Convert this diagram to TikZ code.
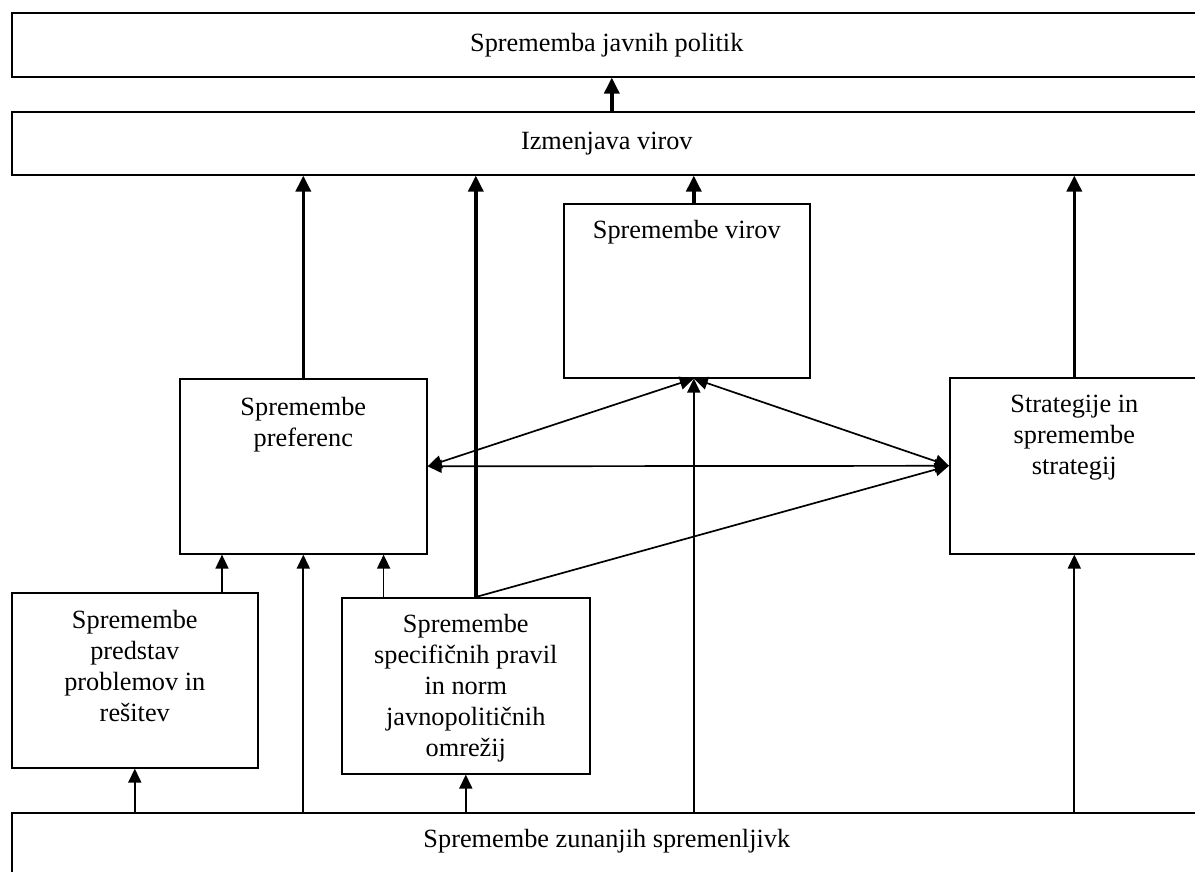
\documentclass[tikz,border=0pt]{standalone}
\usepackage{fontspec}
\setmainfont{Liberation Serif}
\usetikzlibrary{arrows.meta}

\begin{document}
\begin{tikzpicture}[x=1pt, y=-1pt,
		font=\fontsize{26.3}{31}\selectfont,
		box/.style={draw, line width=1.6pt, inner sep=0pt, anchor=north west},
		toptext/.style={anchor=north, align=center, inner sep=0pt, yshift=-18pt},
		thinarrow/.style={line width=1.7pt, -{Triangle[length=14pt,width=13pt]}},
		botharrow/.style={line width=1.7pt, {Triangle[length=14pt,width=13pt]}-{Triangle[length=14pt,width=13pt]}},
		thickarrow/.style={line width=3.5pt, -{Triangle[length=16pt,width=15pt]}}]
		%%%%% START %%%%%
		
		\useasboundingbox (0, 0) rectangle (1195, 871);
		\clip (0, 0) rectangle (1195, 871);
		
		% wide boxes
		\node[box, minimum width=1190pt, minimum height=64pt] (politik) at (11, 12) {Sprememba javnih politik};
		\node[box, minimum width=1190pt, minimum height=63pt] (izmenjava) at (11, 111) {Izmenjava virov};
		\node[box, minimum width=1190pt, minimum height=80pt,
			label={[toptext, yshift=1pt]north:Spremembe zunanjih spremenljivk}] (zunanje) at (11, 812) {};
		
		% inner boxes
		\node[box, minimum width=246pt, minimum height=174pt,
			label={[toptext, yshift=1pt]north:Spremembe virov}] (virov) at (563, 203) {};
		\node[box, minimum width=247pt, minimum height=175pt,
			label={[toptext, yshift=-1pt]north:Spremembe\\preferenc}] (pref) at (179, 378) {};
		\node[box, minimum width=249pt, minimum height=176pt,
			label={[toptext]north:Strategije in\\spremembe\\strategij}] (strat) at (949, 377) {};
		\node[box, minimum width=246pt, minimum height=175pt,
			label={[toptext]north:Spremembe\\predstav\\problemov in\\rešitev}] (predstav) at (11, 592) {};
		\node[box, minimum width=248pt, minimum height=176pt,
			label={[toptext, yshift=1pt]north:Spremembe\\specifičnih pravil\\in norm\\javnopolitičnih\\omrežij}] (specif) at (341, 597) {};
		
		% end points on the boxes
		\coordinate (pA) at ([xshift=43pt]pref.south west);
		\coordinate (pB) at (pref.south);
		\coordinate (pC) at ([xshift=-44pt]pref.south east);
		\coordinate (vhub) at ([xshift=7pt]virov.south);
		\coordinate (vtop) at ([xshift=7pt]virov.north);
		\coordinate (shub) at ([xshift=10pt]specif.north);
		
		% thick arrows
		\draw[thickarrow] ([xshift=5pt]izmenjava.north) -- ([xshift=5pt]politik.south);
		\draw[thickarrow] (pref.north) -- (pref.north |- izmenjava.south);
		\draw[thickarrow] (shub) -- (shub |- izmenjava.south);
		\draw[thickarrow] (vtop) -- (vtop |- izmenjava.south);
		\draw[thickarrow] (strat.north) -- (strat.north |- izmenjava.south);
		
		% thin arrows
		\draw[thinarrow] (predstav.north -| pA) -- (pA);
		\draw[thinarrow] (zunanje.north -| pB) -- (pB);
		\draw[thinarrow] (specif.north -| pC) -- (pC);
		\draw[thinarrow] (zunanje.north -| predstav.south) -- (predstav.south);
		\draw[thinarrow] (zunanje.north -| specif.south) -- (specif.south);
		\draw[thinarrow] (zunanje.north -| vhub) -- (vhub);
		\draw[thinarrow] (zunanje.north -| strat.south) -- (strat.south);
		\draw[thinarrow] (shub) -- (strat.west);
		
		\draw[botharrow] (vhub) -- (pref.east);
		\draw[botharrow] (vhub) -- (strat.west);
		\draw[botharrow] (pref.east) -- (strat.west);
		
		%%%%% END %%%%%
	\end{tikzpicture}
\end{document}
